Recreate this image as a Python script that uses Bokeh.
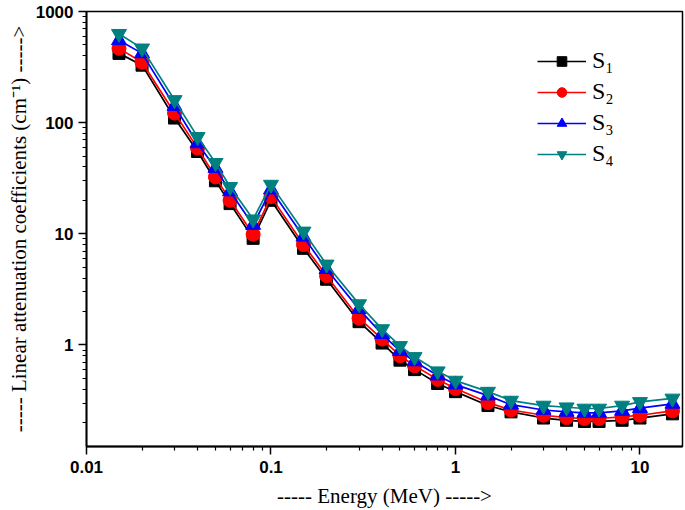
from bokeh.plotting import figure
from bokeh.models import Range1d, FixedTicker, CustomJSTickFormatter, Legend, LegendItem
from bokeh.embed import file_html
from bokeh.resources import INLINE

energy = [0.015, 0.02, 0.03, 0.04, 0.05, 0.06, 0.08, 0.1, 0.15, 0.2, 0.3, 0.4, 0.5,
          0.6, 0.8, 1, 1.5, 2, 3, 4, 5, 6, 8, 10, 15]
s1 = [420, 329, 110, 55, 30, 18.7, 9.1, 20, 7.4, 3.9, 1.62, 1.04, 0.73, 0.60, 0.45,
      0.38, 0.285, 0.25, 0.22, 0.21, 0.205, 0.205, 0.21, 0.22, 0.24]
s2 = [466, 350, 122, 59, 32.5, 20, 9.9, 21.6, 8.0, 4.2, 1.74, 1.13, 0.80, 0.65, 0.49,
      0.405, 0.303, 0.26, 0.233, 0.222, 0.218, 0.218, 0.225, 0.233, 0.255]
s3 = [550, 420, 141, 65, 39, 24, 12, 25, 9.4, 4.8, 2.1, 1.25, 0.88, 0.71, 0.53,
      0.44, 0.35, 0.29, 0.26, 0.25, 0.245, 0.245, 0.255, 0.27, 0.295]
s4 = [630, 466, 160, 74.5, 43.5, 26.5, 13.5, 27.7, 10.5, 5.3, 2.33, 1.39, 0.98, 0.78, 0.58,
      0.478, 0.38, 0.316, 0.285, 0.275, 0.268, 0.268, 0.285, 0.307, 0.33]
series_labels = ["S\u2081", "S\u2082", "S\u2083", "S\u2084"]
series_colors = ["#000000", "#ff0000", "#0000ff", "#008080"]
series_markers = ["square", "circle", "triangle", "inverted_triangle"]
series_sizes = [12, 14, 15, 15]
x_major = [0.01, 0.1, 1, 10]
y_major = [1, 10, 100, 1000]

p = figure(width=685, height=510, x_axis_type="log", y_axis_type="log",
           x_range=Range1d(0.01, 17), y_range=Range1d(0.122, 1000),
           output_backend="svg", toolbar_location=None,
           min_border_left=86, min_border_right=3, min_border_top=11, min_border_bottom=62)
p.xgrid.visible = False
p.ygrid.visible = False
p.outline_line_color = "black"
p.outline_line_width = 1.5
p.background_fill_color = "white"
p.border_fill_color = "white"

x_minor = [m * d for d in [0.01, 0.1, 1, 10] for m in range(2, 10)]
y_minor = [m * d for d in [0.1, 1, 10, 100] for m in range(2, 10)]
p.xaxis.ticker = FixedTicker(ticks=x_major, minor_ticks=x_minor)
p.yaxis.ticker = FixedTicker(ticks=y_major, minor_ticks=y_minor)
fmt = CustomJSTickFormatter(code="return tick.toString();")
for ax in (p.xaxis, p.yaxis):
    ax.formatter = fmt
    ax.major_label_text_font = "Liberation Sans"
    ax.major_label_text_font_style = "bold"
    ax.major_label_text_font_size = "17px"
    ax.major_label_text_color = "black"
    ax.axis_line_width = 1.8
    ax.axis_line_color = "black"
    ax.major_tick_line_width = 1.5
    ax.minor_tick_line_width = 1.2
    ax.major_tick_out = 8
    ax.major_tick_in = 0
    ax.minor_tick_out = 4
    ax.minor_tick_in = 0
    ax.axis_label_text_font = "Liberation Serif"
    ax.axis_label_text_font_style = "normal"
    ax.axis_label_text_font_size = "21px"
    ax.axis_label_text_color = "black"
p.xaxis.axis_label = "----- Energy (MeV) ----->"
p.yaxis.axis_label = "----- Linear attenuation coefficients (cm\u207b\u00b9) ----->"
p.xaxis.major_label_standoff = 6
p.yaxis.major_label_standoff = 5
p.xaxis.axis_label_standoff = 8
p.yaxis.axis_label_standoff = 2

items = []
for ys, lab, col, mk, sz in zip([s1, s2, s3, s4], series_labels, series_colors,
                                series_markers, series_sizes):
    ln = p.line(energy, ys, line_color=col, line_width=1.7)
    sc = p.scatter(energy, ys, marker=mk, size=sz, fill_color=col, line_color=col)
    items.append(LegendItem(label=lab, renderers=[ln, sc]))

legend = Legend(items=items, location=(451, 279), padding=0, margin=0,
                border_line_color=None, background_fill_alpha=0,
                glyph_width=49, glyph_height=24, label_height=24, spacing=4,
                label_standoff=6, label_text_font="Liberation Serif",
                label_text_font_size="24px", label_text_color="black")
p.add_layout(legend, "center")

open("out.html", "w").write(file_html(p, INLINE))
